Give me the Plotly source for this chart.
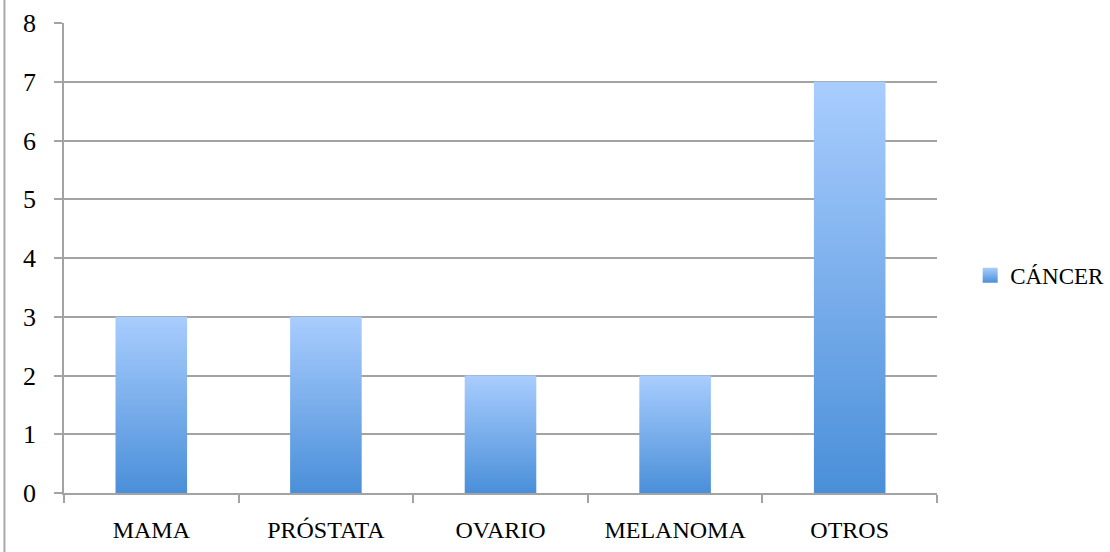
import plotly.graph_objects as go

categories = ["MAMA", "PRÓSTATA", "OVARIO", "MELANOMA", "OTROS"]
values = [3, 3, 2, 2, 7]
series_name = "CÁNCER"

BAR_HALF = 0.205
TOP_COLOR = "#a9cdfe"
BOTTOM_COLOR = "#4a8fd9"
GRID = "#a3a3a3"
FONT = "Liberation Serif"

fig = go.Figure()

# Each bar is a filled polygon so it can carry its own bottom-to-top gradient
for i, v in enumerate(values):
    fig.add_trace(go.Scatter(
        x=[i - BAR_HALF, i + BAR_HALF, i + BAR_HALF, i - BAR_HALF, i - BAR_HALF],
        y=[0, 0, v, v, 0],
        mode="lines",
        line=dict(width=0),
        fill="toself",
        fillgradient=dict(
            type="vertical",
            colorscale=[[0, BOTTOM_COLOR], [1, TOP_COLOR]],
            start=0,
            stop=v,
        ),
        name=series_name,
        showlegend=False,
        hoverinfo="skip",
    ))

# Legend key for the series
fig.add_trace(go.Scatter(
    x=[None], y=[None],
    mode="markers",
    marker=dict(symbol="square", size=15, color=TOP_COLOR,
                gradient=dict(type="vertical", color=BOTTOM_COLOR),
                line=dict(width=0)),
    name=series_name,
    showlegend=True,
))

fig.update_layout(
    width=1110, height=552,
    margin=dict(l=64, r=173, t=23, b=59, autoexpand=False),
    paper_bgcolor="white",
    plot_bgcolor="white",
    font=dict(family=FONT, size=24, color="black"),
    showlegend=True,
    legend=dict(
        x=1.038, y=0.463, xanchor="left", yanchor="middle",
        font=dict(family=FONT, size=23),
        itemwidth=30,
        bgcolor="rgba(0,0,0,0)",
    ),
    xaxis=dict(
        range=[-0.5, 4.5],
        tickmode="array",
        tickvals=list(range(len(categories))),
        ticktext=categories,
        ticks="",
        ticklabelstandoff=14,
        showgrid=False,
        zeroline=False,
        showline=True,
        linecolor=GRID,
        linewidth=1.5,
        fixedrange=True,
        minor=dict(
            tickmode="array",
            tickvals=[k - 0.5 for k in range(len(categories) + 1)],
            ticks="outside",
            ticklen=8,
            tickwidth=1.5,
            tickcolor=GRID,
            showgrid=False,
        ),
    ),
    yaxis=dict(
        range=[0, 8],
        dtick=1,
        tick0=0,
        ticks="outside",
        ticklen=8,
        tickwidth=1.5,
        tickcolor=GRID,
        tickfont=dict(size=26),
        ticklabelstandoff=13,
        showgrid=True,
        gridcolor=GRID,
        gridwidth=1.5,
        zeroline=False,
        showline=True,
        linecolor=GRID,
        linewidth=1.5,
        fixedrange=True,
    ),
    shapes=[
        dict(type="line", xref="paper", yref="paper",
             x0=-0.0682, x1=-0.0682, y0=-0.2, y1=1.1,
             line=dict(color="#a8a8a8", width=2)),
    ],
)

fig.write_html("out.html")
